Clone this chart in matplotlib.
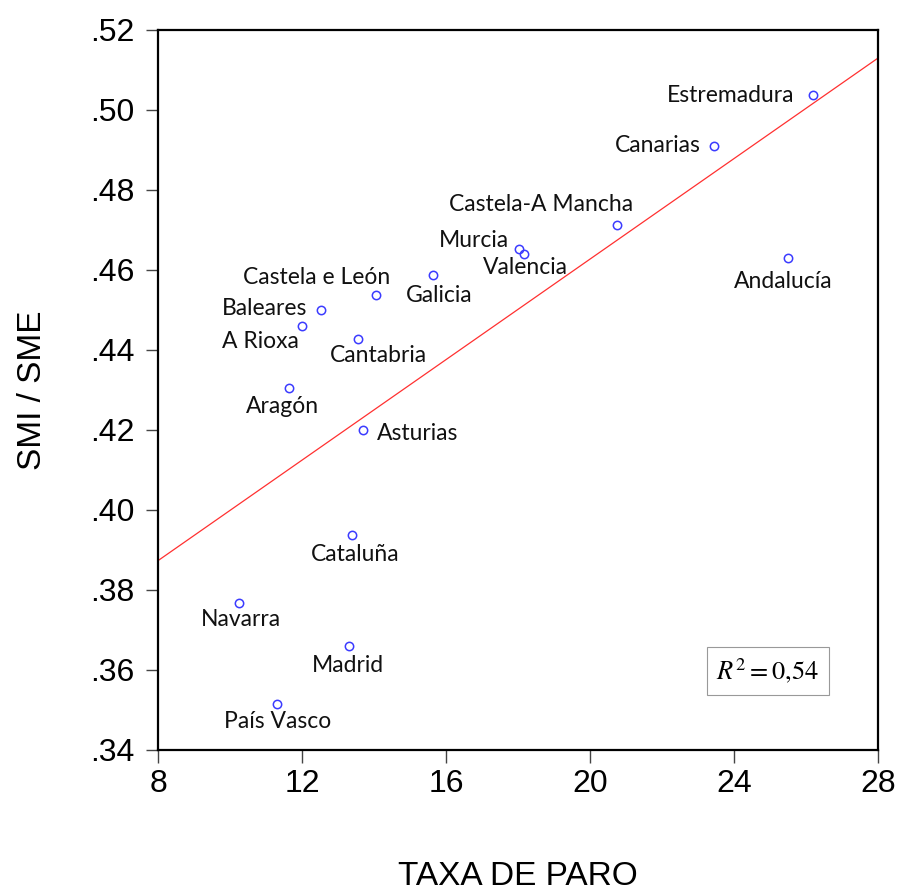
import numpy as np
import matplotlib.pyplot as plt
from matplotlib.ticker import FuncFormatter

regions = ['Estremadura', 'Canarias', 'Castela-A Mancha', 'Murcia', 'Valencia',
           'Andalucía', 'Galicia', 'Castela e León', 'Baleares', 'A Rioxa',
           'Cantabria', 'Aragón', 'Asturias', 'Cataluña', 'Navarra', 'Madrid',
           'País Vasco']
taxa_paro = [26.19, 23.44, 20.75, 18.03, 18.17, 25.50, 15.64, 14.06, 12.53,
             12.00, 13.56, 11.64, 13.69, 13.39, 10.25, 13.31, 11.31]
smi_sme = [0.5037, 0.4910, 0.4713, 0.4653, 0.4640, 0.4630, 0.4588, 0.4538,
           0.4500, 0.4460, 0.4428, 0.4305, 0.4200, 0.3938, 0.3768, 0.3660,
           0.3515]

# label offsets (pixels) of text centre from the point
offsets = [(-82, 0), (-56, 0), (-76, 20), (-45, 8), (1, -14), (-5, -24),
           (6, -21), (-60, 17), (-57, 1), (-42, -16), (20, -17), (-7, -19),
           (55, -4), (3, -20), (2, -17), (-1, -20), (0, -18)]

x = np.array(taxa_paro)
y = np.array(smi_sme)

fig = plt.figure(figsize=(9, 8.92), dpi=100)
ax = fig.add_axes([0.1756, 0.1592, 0.8, 0.8072])

slope, intercept = np.polyfit(x, y, 1)
xs = np.array([8, 28])
ax.plot(xs, intercept + slope * xs, color='#ff3030', lw=0.9)

ax.plot(x, y, 'o', mfc='none', mec='#3b3bff', ms=6, mew=1.1)

for name, xi, yi, (dx, dy) in zip(regions, x, y, offsets):
    ax.annotate(name, (xi, yi), xytext=(dx, dy), textcoords='offset pixels',
                ha='center', va='center', fontsize=16.5, family='Lato',
                color='#111111')

ax.text(0.847, 0.11, r'$R^2 = 0{,}54$', transform=ax.transAxes,
        ha='center', va='center', fontsize=19, math_fontfamily='stix',
        bbox=dict(boxstyle='square,pad=0.35', fc='white', ec='#999999', lw=0.8))

ax.set_xlim(8, 28)
ax.set_ylim(0.34, 0.52)
ax.set_xticks(np.arange(8, 29, 4))
ax.set_yticks(np.arange(0.34, 0.521, 0.02))
ax.yaxis.set_major_formatter(FuncFormatter(lambda v, p: '{:.2f}'.format(v).lstrip('0')))

tick_font = ['Liberation Sans Narrow', 'Liberation Sans', 'DejaVu Sans']
for lab in ax.get_xticklabels() + ax.get_yticklabels():
    lab.set_family(tick_font)
    lab.set_fontsize(23)
ax.tick_params(axis='both', direction='out', color='#444444', width=1)
ax.tick_params(axis='y', length=9, pad=8)
ax.tick_params(axis='x', length=9, pad=5)
for s in ax.spines.values():
    s.set_linewidth(1.6)

ax.set_xlabel('TAXA DE PARO', fontsize=24, family=tick_font, labelpad=44)
ax.set_ylabel('SMI / SME', fontsize=24, family=tick_font, labelpad=30)

plt.savefig('out.png', dpi=100)
